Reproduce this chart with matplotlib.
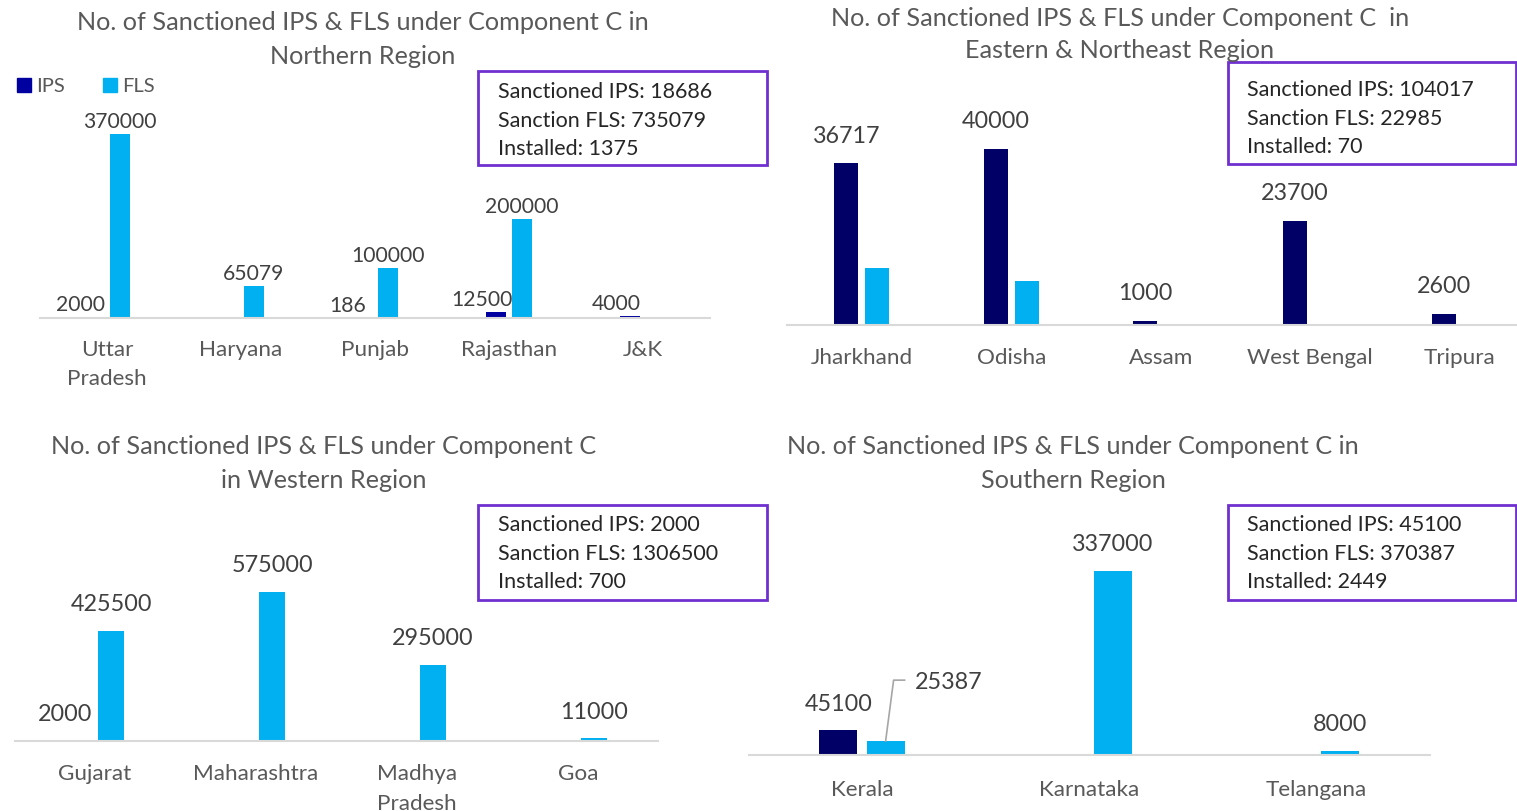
import matplotlib
matplotlib.use('Agg')
import matplotlib.pyplot as plt
from matplotlib.patches import Rectangle
import numpy as np

# ---- data ----
north_states = ['Uttar\nPradesh', 'Haryana', 'Punjab', 'Rajasthan', 'J&K']
north_ips = [2000, 0, 186, 12500, 4000]
north_fls = [370000, 65079, 100000, 200000, 0]

east_states = ['Jharkhand', 'Odisha', 'Assam', 'West Bengal', 'Tripura']
east_ips = [36717, 40000, 1000, 23700, 2600]
east_fls = [12985, 10000, 0, 0, 0]  # not labelled in the source

west_states = ['Gujarat', 'Maharashtra', 'Madhya\nPradesh', 'Goa']
west_ips = [2000, 0, 0, 0]
west_fls = [425500, 575000, 295000, 11000]

south_states = ['Kerala', 'Karnataka', 'Telangana']
south_ips = [45100, 0, 0]
south_fls = [25387, 337000, 8000]

north_box = ['Sanctioned IPS: 18686', 'Sanction FLS: 735079', 'Installed: 1375']
east_box = ['Sanctioned IPS: 104017', 'Sanction FLS: 22985', 'Installed: 70']
west_box = ['Sanctioned IPS: 2000', 'Sanction FLS: 1306500', 'Installed: 700']
south_box = ['Sanctioned IPS: 45100', 'Sanction FLS: 370387', 'Installed: 2449']

W, H = 1517, 812
plt.rcParams['font.family'] = ['Lato', 'DejaVu Sans']

FLS_C = '#00B0F0'
NAVY = '#000066'
GREY = '#595959'
LBL = '#404040'
PURPLE = '#7030D0'

fig = plt.figure(figsize=(W / 100, H / 100), dpi=100)


def fx(x):
    return x / W


def fy(y):
    return 1 - y / H


def panel(x0, ytop, x1, ybot, states, ips, fls, ymax, width, off, ips_color,
          lbl_size, lbl_gap, cat_size, cat_pad, ips_shift=0, fls_labels=True):
    ax = fig.add_axes([fx(x0), fy(ybot), (x1 - x0) / W, (ybot - ytop) / H])
    n = len(states)
    x = np.arange(n)
    ax.bar(x - off, ips, width, color=ips_color)
    ax.bar(x + off, fls, width, color=FLS_C)
    ax.set_xlim(-0.5, n - 0.5)
    ax.set_ylim(0, ymax)
    for s in ['top', 'left', 'right']:
        ax.spines[s].set_visible(False)
    ax.spines['bottom'].set_color('#D9D9D9')
    ax.spines['bottom'].set_linewidth(1.5)
    ax.set_yticks([])
    ax.set_xticks(x)
    ax.set_xticklabels(states, fontsize=cat_size, color=GREY, linespacing=1.6)
    ax.tick_params(axis='x', length=0, pad=cat_pad)
    for i in range(n):
        if ips[i]:
            ax.annotate(str(ips[i]), (x[i] - off, ips[i]), xytext=(ips_shift, lbl_gap),
                        textcoords='offset pixels', ha='center', va='center',
                        fontsize=lbl_size, color=LBL)
        if fls[i] and fls_labels:
            ax.annotate(str(fls[i]), (x[i] + off, fls[i]), xytext=(0, lbl_gap),
                        textcoords='offset pixels', ha='center', va='center',
                        fontsize=lbl_size, color=LBL)
    return ax


def info_box(x0, y0, x1, y1, lines, tx, ty):
    fig.patches.append(Rectangle((fx(x0), fy(y1)), (x1 - x0) / W, (y1 - y0) / H,
                                 transform=fig.transFigure, fill=False,
                                 edgecolor=PURPLE, linewidth=2))
    for k, t in enumerate(lines):
        fig.text(fx(tx), fy(ty + k * 28.7), t, fontsize=15.5, color='#262626',
                 ha='left', va='center')


def title(cx, y1, y2, l1, l2):
    fig.text(fx(cx), fy(y1), l1, fontsize=18.2, color=GREY, ha='center', va='center')
    fig.text(fx(cx), fy(y2), l2, fontsize=18.2, color=GREY, ha='center', va='center')


# Northern
axn = panel(40, 100, 710, 319, north_states, north_ips, north_fls, 440400,
            0.155, 0.097, '#0000A0', 15.2, 13, 16.2, 15, ips_shift=-14)
# Eastern
axe = panel(787, 100, 1534.5, 326, east_states, east_ips, east_fls, 51360,
            0.16, 0.104, NAVY, 16.8, 28, 16.2, 16, fls_labels=False)
# Western
axw = panel(14.5, 520, 658.5, 742, west_states, west_ips, west_fls, 856700,
            0.16, 0.1, NAVY, 16.8, 27, 16.2, 16, ips_shift=-14)
# Southern: Kerala FLS uses a leader line, so label it by hand
axs = panel(748.5, 540, 1429.5, 756, south_states, south_ips, [0] + south_fls[1:],
            395600, 0.167, 0.104, NAVY, 16.8, 27, 16.2, 17)
axs.bar([0 + 0.104], [south_fls[0]], 0.167, color=FLS_C)
p0 = axs.transData.transform((0.104, south_fls[0]))
pts = axs.transData.inverted().transform(p0 + np.array([[0, 0], [8, 61], [19, 61]]))
axs.plot(pts[:, 0], pts[:, 1], color='#A6A6A6', lw=1.2, clip_on=False)
axs.annotate(str(south_fls[0]), (0.104, south_fls[0]), xytext=(29, 60),
             textcoords='offset pixels', ha='left', va='center', fontsize=16.8, color=LBL)

title(363, 22, 57, 'No. of Sanctioned IPS & FLS under Component C in', 'Northern Region')
title(1120, 18, 51, 'No. of Sanctioned IPS & FLS under Component C  in',
      'Eastern & Northeast Region')
title(324, 446, 480, 'No. of Sanctioned IPS & FLS under Component C', 'in Western Region')
title(1073, 447, 481, 'No. of Sanctioned IPS & FLS under Component C in', 'Southern Region')

info_box(478, 72, 767, 166, north_box, 498, 92)
info_box(1228, 63, 1516, 165, east_box, 1247, 90)
info_box(478, 506, 767, 601, west_box, 498, 525)
info_box(1228, 506, 1516, 601, south_box, 1247, 525)

# legend
for sx, c, t in [(17, '#0000A0', 'IPS'), (103, FLS_C, 'FLS')]:
    fig.patches.append(Rectangle((fx(sx), fy(93)), 14 / W, 14 / H,
                                 transform=fig.transFigure, color=c))
    fig.text(fx(sx + 19), fy(86), t, fontsize=14.5, color=GREY, ha='left', va='center')

fig.savefig('out.png', dpi=100)
